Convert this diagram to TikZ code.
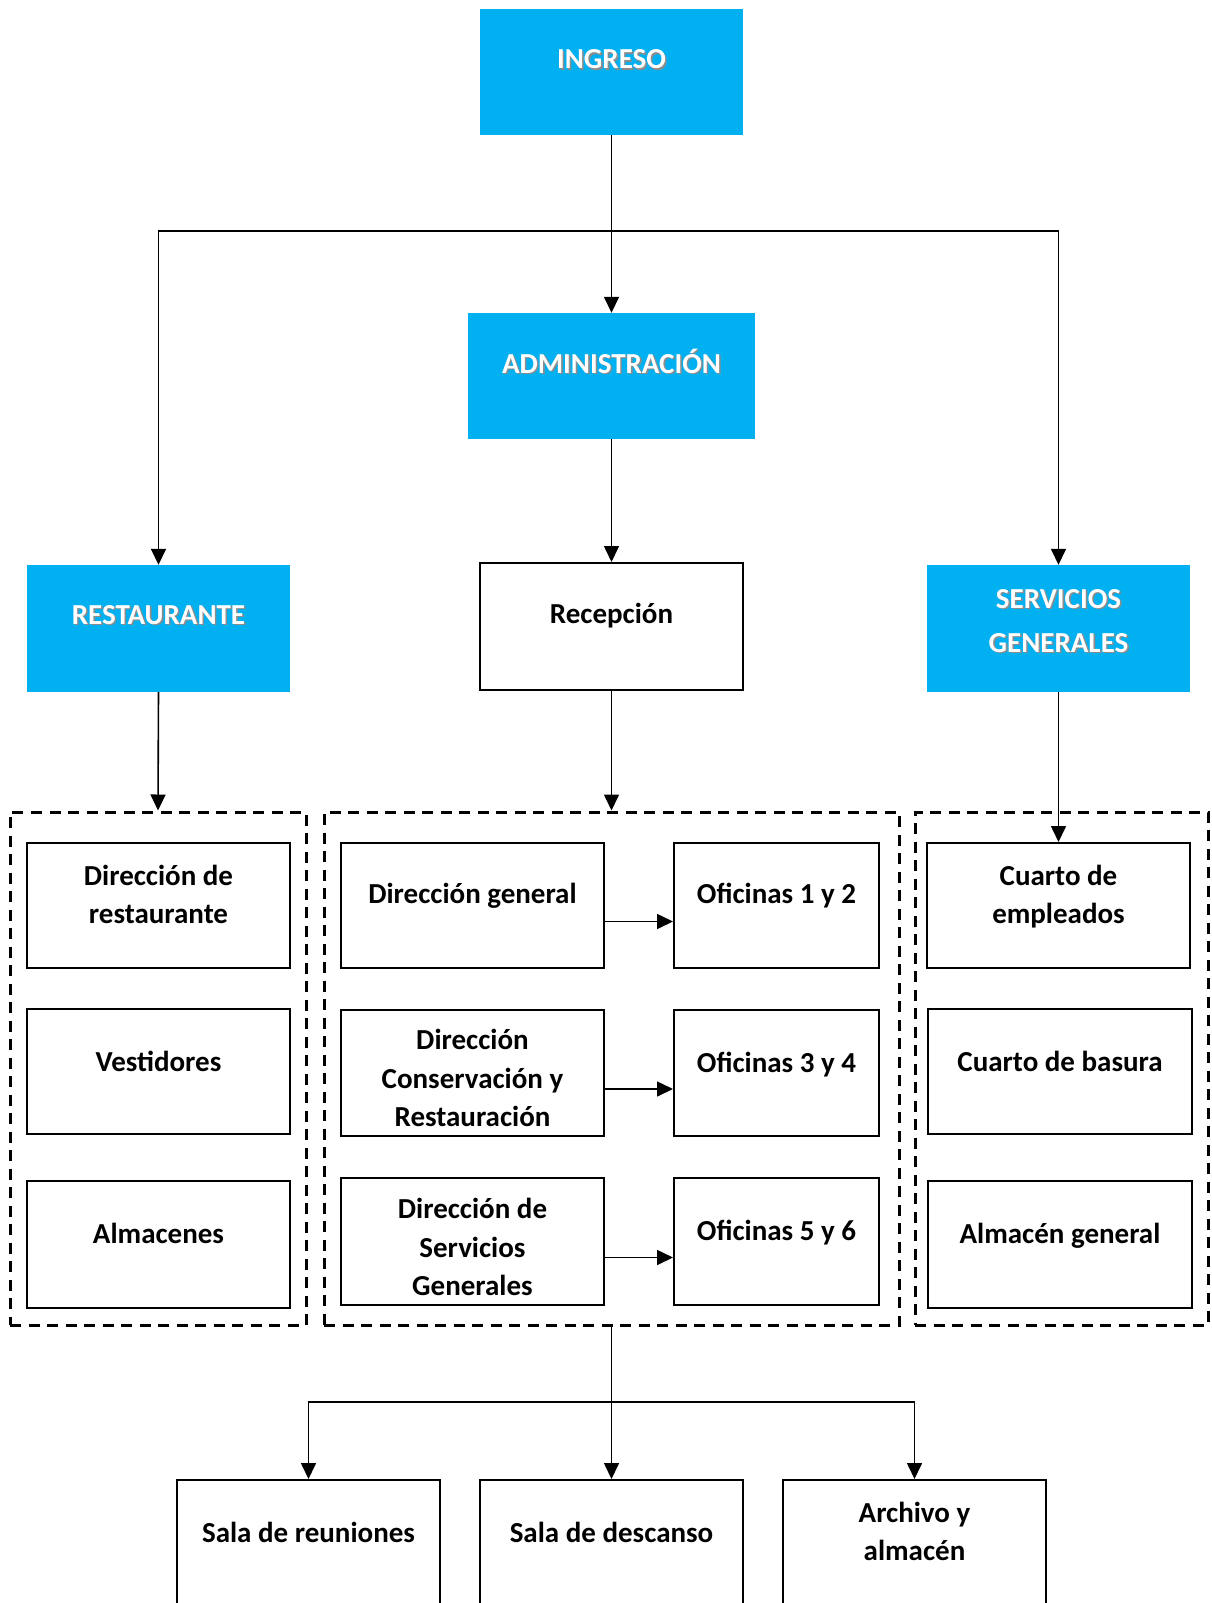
\documentclass[tikz,border=0pt]{standalone}
\usepackage{fontspec}
\setmainfont{Carlito}
\usetikzlibrary{arrows.meta,fit}
\definecolor{skyb}{HTML}{00B0F0}
\newcommand\shadowtxt[1]{\rlap{\kern1.6pt\raisebox{-1.6pt}{\textcolor{black!45}{#1}}}\textcolor{white}{#1}}
\begin{document}
\begin{tikzpicture}[x=1pt,y=-1pt,
  bluebox/.style={fill=skyb, draw=none, inner sep=0pt},
  wbox/.style={draw=black, line width=2pt, fill=white, inner sep=0pt},
  grp/.style={draw=black, line width=3pt, dash pattern=on 11pt off 7.5pt, inner sep=0pt},
  txt/.style={font=\fontsize{29}{38}\selectfont\bfseries, inner sep=0pt, anchor=base},
  conn/.style={draw=black, line width=1.6pt},
  arr/.style={conn, -{Triangle[length=16pt,width=15pt]}},
]
\useasboundingbox (0,0) rectangle (1211,1603);
\clip (0,0) rectangle (1211,1603);
\fill[white] (0,0) rectangle (1211,1603);

% groups
\node[grp, fit={(10,812)(306,1325)}] (gl) {};
\node[grp, fit={(324,812)(899,1325)}] (gc) {};
\node[grp, fit={(915,812)(1208,1325)}] (gr) {};

% top boxes
\node[bluebox, fit={(480,9)(743,135)}] (ing) {};
\node[txt] (ingt) at (611.5,69) {\shadowtxt{INGRESO}};
\node[bluebox, fit={(468,313)(755,439)}] (adm) {};
\node[txt] (admt) at (611.5,373) {\shadowtxt{ADMINISTRACIÓN}};
\node[bluebox, fit={(27,565)(290,692)}] (rest) {};
\node[txt] (restt) at (158.5,624) {\shadowtxt{RESTAURANTE}};
\node[wbox, fit={(480,563)(743,690)}] (rec) {};
\node[txt] (rect) at (611.5,623) {Recepción};
\node[bluebox, fit={(927,565)(1190,692)}] (sg) {};
\node[txt] (sgt1) at (1058.5,608) {\shadowtxt{SERVICIOS}};
\node[txt] (sgt2) at (1058.5,652) {\shadowtxt{GENERALES}};

% left column
\node[wbox, fit={(27,843)(290,968)}] (dres) {};
\node[txt] (dres1) at (158.5,885) {Dirección de};
\node[txt] (dres2) at (158.5,923) {restaurante};
\node[wbox, fit={(27,1009)(290,1134)}] (ves) {};
\node[txt] (vest) at (158.5,1071) {Vestidores};
\node[wbox, fit={(27,1181)(290,1308)}] (alm) {};
\node[txt] (almt) at (158.5,1243) {Almacenes};

% centre column
\node[wbox, fit={(341,843)(604,968)}] (dg) {};
\node[txt] (dgt) at (472.5,903) {Dirección general};
\node[wbox, fit={(341,1010)(604,1136)}] (dcr) {};
\node[txt] (dcr1) at (472.5,1049) {Dirección};
\node[txt] (dcr2) at (472.5,1088) {Conservación y};
\node[txt] (dcr3) at (472.5,1126) {Restauración};
\node[wbox, fit={(341,1178)(604,1305)}] (dsg) {};
\node[txt] (dsg1) at (472.5,1218) {Dirección de};
\node[txt] (dsg2) at (472.5,1257) {Servicios};
\node[txt] (dsg3) at (472.5,1295) {Generales};

\node[wbox, fit={(674,843)(879,968)}] (of1) {};
\node[txt] (of1t) at (776.5,903) {Oficinas 1 y 2};
\node[wbox, fit={(674,1010)(879,1136)}] (of2) {};
\node[txt] (of2t) at (776.5,1072) {Oficinas 3 y 4};
\node[wbox, fit={(674,1178)(879,1305)}] (of3) {};
\node[txt] (of3t) at (776.5,1240) {Oficinas 5 y 6};

% right column
\node[wbox, fit={(927,843)(1190,968)}] (ce) {};
\node[txt] (ce1) at (1058.5,885) {Cuarto de};
\node[txt] (ce2) at (1058.5,923) {empleados};
\node[wbox, fit={(928,1009)(1192,1134)}] (cb) {};
\node[txt] (cbt) at (1060,1071) {Cuarto de basura};
\node[wbox, fit={(928,1181)(1192,1308)}] (ag) {};
\node[txt] (agt) at (1060,1243) {Almacén general};

% bottom row
\node[wbox, fit={(177,1480)(440,1630)}] (sr) {};
\node[txt] (srt) at (308.5,1542) {Sala de reuniones};
\node[wbox, fit={(480,1480)(743,1630)}] (sd) {};
\node[txt] (sdt) at (611.5,1542) {Sala de descanso};
\node[wbox, fit={(783,1480)(1046,1630)}] (aa) {};
\node[txt] (aa1) at (914.5,1522) {Archivo y};
\node[txt] (aa2) at (914.5,1560) {almacén};

% connectors
\coordinate (j1) at (611.5,231);
\coordinate (j2) at (611.5,1402);
\draw[arr] (ing.south) -- (adm.north);
\draw[arr] (j1) -| (rest.north);
\draw[arr] (j1) -| (sg.north);
\draw[arr] (adm.south) -- (rec.north);
\draw[arr] (rest.south) -- (gl.north);
\draw[arr] (rec.south) -- (gc.north);
\draw[arr] (sg.south) -- (ce.north);
\draw[arr] ([yshift=-16pt]dg.east) -- ([yshift=-16pt]of1.west);
\draw[arr] ([yshift=-16pt]dcr.east) -- ([yshift=-16pt]of2.west);
\draw[arr] ([yshift=-16pt]dsg.east) -- ([yshift=-16pt]of3.west);
\draw[arr] (gc.south) -- (sd.north);
\draw[arr] (j2) -| (sr.north);
\draw[arr] (j2) -| (aa.north);
\end{tikzpicture}
\end{document}
